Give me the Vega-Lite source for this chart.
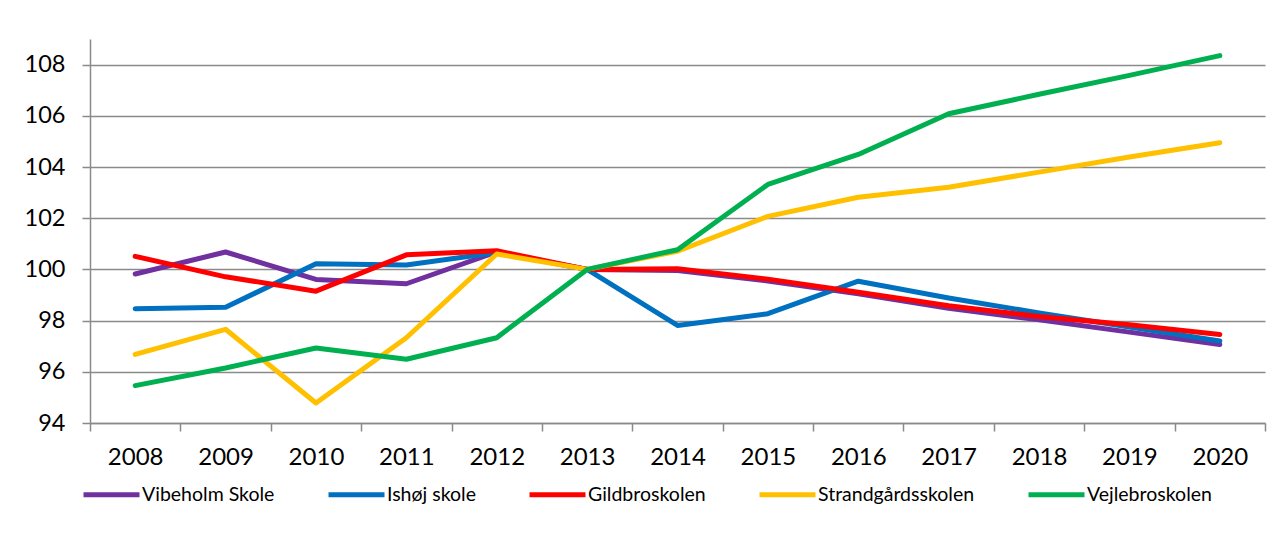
{
  "$schema": "https://vega.github.io/schema/vega-lite/v6.json",
  "width": 1175,
  "height": 384,
  "autosize": {"type": "none"},
  "padding": {"left": 90, "top": 39, "right": 17, "bottom": 119},
  "background": "white",
  "data": {"values": [
    {"year": "2008", "school": "Vibeholm Skole", "value": 99.82},
    {"year": "2009", "school": "Vibeholm Skole", "value": 100.68},
    {"year": "2010", "school": "Vibeholm Skole", "value": 99.61},
    {"year": "2011", "school": "Vibeholm Skole", "value": 99.44},
    {"year": "2012", "school": "Vibeholm Skole", "value": 100.68},
    {"year": "2013", "school": "Vibeholm Skole", "value": 100},
    {"year": "2014", "school": "Vibeholm Skole", "value": 99.96},
    {"year": "2015", "school": "Vibeholm Skole", "value": 99.55},
    {"year": "2016", "school": "Vibeholm Skole", "value": 99.05},
    {"year": "2017", "school": "Vibeholm Skole", "value": 98.48},
    {"year": "2018", "school": "Vibeholm Skole", "value": 98.03},
    {"year": "2019", "school": "Vibeholm Skole", "value": 97.55},
    {"year": "2020", "school": "Vibeholm Skole", "value": 97.07},
    {"year": "2008", "school": "Ishøj skole", "value": 98.46},
    {"year": "2009", "school": "Ishøj skole", "value": 98.52},
    {"year": "2010", "school": "Ishøj skole", "value": 100.22},
    {"year": "2011", "school": "Ishøj skole", "value": 100.17},
    {"year": "2012", "school": "Ishøj skole", "value": 100.66},
    {"year": "2013", "school": "Ishøj skole", "value": 100},
    {"year": "2014", "school": "Ishøj skole", "value": 97.81},
    {"year": "2015", "school": "Ishøj skole", "value": 98.27},
    {"year": "2016", "school": "Ishøj skole", "value": 99.54},
    {"year": "2017", "school": "Ishøj skole", "value": 98.88},
    {"year": "2018", "school": "Ishøj skole", "value": 98.30},
    {"year": "2019", "school": "Ishøj skole", "value": 97.75},
    {"year": "2020", "school": "Ishøj skole", "value": 97.20},
    {"year": "2008", "school": "Gildbroskolen", "value": 100.51},
    {"year": "2009", "school": "Gildbroskolen", "value": 99.71},
    {"year": "2010", "school": "Gildbroskolen", "value": 99.15},
    {"year": "2011", "school": "Gildbroskolen", "value": 100.57},
    {"year": "2012", "school": "Gildbroskolen", "value": 100.73},
    {"year": "2013", "school": "Gildbroskolen", "value": 100},
    {"year": "2014", "school": "Gildbroskolen", "value": 100.03},
    {"year": "2015", "school": "Gildbroskolen", "value": 99.62},
    {"year": "2016", "school": "Gildbroskolen", "value": 99.11},
    {"year": "2017", "school": "Gildbroskolen", "value": 98.58},
    {"year": "2018", "school": "Gildbroskolen", "value": 98.16},
    {"year": "2019", "school": "Gildbroskolen", "value": 97.84},
    {"year": "2020", "school": "Gildbroskolen", "value": 97.46},
    {"year": "2008", "school": "Strandgårdsskolen", "value": 96.68},
    {"year": "2009", "school": "Strandgårdsskolen", "value": 97.66},
    {"year": "2010", "school": "Strandgårdsskolen", "value": 94.78},
    {"year": "2011", "school": "Strandgårdsskolen", "value": 97.33},
    {"year": "2012", "school": "Strandgårdsskolen", "value": 100.6},
    {"year": "2013", "school": "Strandgårdsskolen", "value": 100},
    {"year": "2014", "school": "Strandgårdsskolen", "value": 100.71},
    {"year": "2015", "school": "Strandgårdsskolen", "value": 102.07},
    {"year": "2016", "school": "Strandgårdsskolen", "value": 102.82},
    {"year": "2017", "school": "Strandgårdsskolen", "value": 103.21},
    {"year": "2018", "school": "Strandgårdsskolen", "value": 103.80},
    {"year": "2019", "school": "Strandgårdsskolen", "value": 104.39},
    {"year": "2020", "school": "Strandgårdsskolen", "value": 104.95},
    {"year": "2008", "school": "Vejlebroskolen", "value": 95.46},
    {"year": "2009", "school": "Vejlebroskolen", "value": 96.15},
    {"year": "2010", "school": "Vejlebroskolen", "value": 96.93},
    {"year": "2011", "school": "Vejlebroskolen", "value": 96.49},
    {"year": "2012", "school": "Vejlebroskolen", "value": 97.33},
    {"year": "2013", "school": "Vejlebroskolen", "value": 100},
    {"year": "2014", "school": "Vejlebroskolen", "value": 100.77},
    {"year": "2015", "school": "Vejlebroskolen", "value": 103.32},
    {"year": "2016", "school": "Vejlebroskolen", "value": 104.49},
    {"year": "2017", "school": "Vejlebroskolen", "value": 106.08},
    {"year": "2018", "school": "Vejlebroskolen", "value": 106.84},
    {"year": "2019", "school": "Vejlebroskolen", "value": 107.58},
    {"year": "2020", "school": "Vejlebroskolen", "value": 108.35}
  ]},
  "mark": {"type": "line", "strokeWidth": 5, "strokeCap": "round", "strokeJoin": "round"},
  "encoding": {
    "x": {
      "field": "year", "type": "ordinal", "bandPosition": 0.5,
      "scale": {"type": "band", "paddingInner": 0, "paddingOuter": 0},
      "axis": {
        "title": null, "labelAngle": 0, "tickBand": "extent", "grid": false,
        "domainColor": "#8a8a8a", "domainWidth": 1.5, "tickColor": "#8a8a8a", "tickWidth": 1.5, "tickSize": 8,
        "labelFont": "Lato", "labelFontSize": 24, "labelColor": "#000000", "labelPadding": 14
      }
    },
    "y": {
      "field": "value", "type": "quantitative",
      "scale": {"domain": [94, 109], "nice": false, "zero": false},
      "axis": {
        "title": null, "values": [94, 96, 98, 100, 102, 104, 106, 108],
        "grid": true, "gridColor": "#8a8a8a", "gridWidth": 1.5,
        "domainColor": "#8a8a8a", "domainWidth": 1.5, "tickColor": "#8a8a8a", "tickWidth": 1.5, "tickSize": 8,
        "labelFont": "Lato", "labelFontSize": 23.5, "labelColor": "#000000", "labelPadding": 17
      }
    },
    "color": {
      "field": "school", "type": "nominal",
      "scale": {
        "domain": ["Vibeholm Skole", "Ishøj skole", "Gildbroskolen", "Strandgårdsskolen", "Vejlebroskolen"],
        "range": ["#7030A0", "#0070C0", "#FF0000", "#FFC000", "#00B050"]
      },
      "legend": {
        "title": null, "orient": "none", "direction": "horizontal", "legendX": -9, "legendY": 425,
        "symbolType": "stroke", "symbolSize": 3136, "symbolStrokeWidth": 5,
        "labelFont": "Lato", "labelFontSize": 19.5, "labelColor": "#000000", "labelOffset": 0,
        "columnPadding": 43, "padding": 0
      }
    }
  },
  "config": {"view": {"stroke": null}}
}
